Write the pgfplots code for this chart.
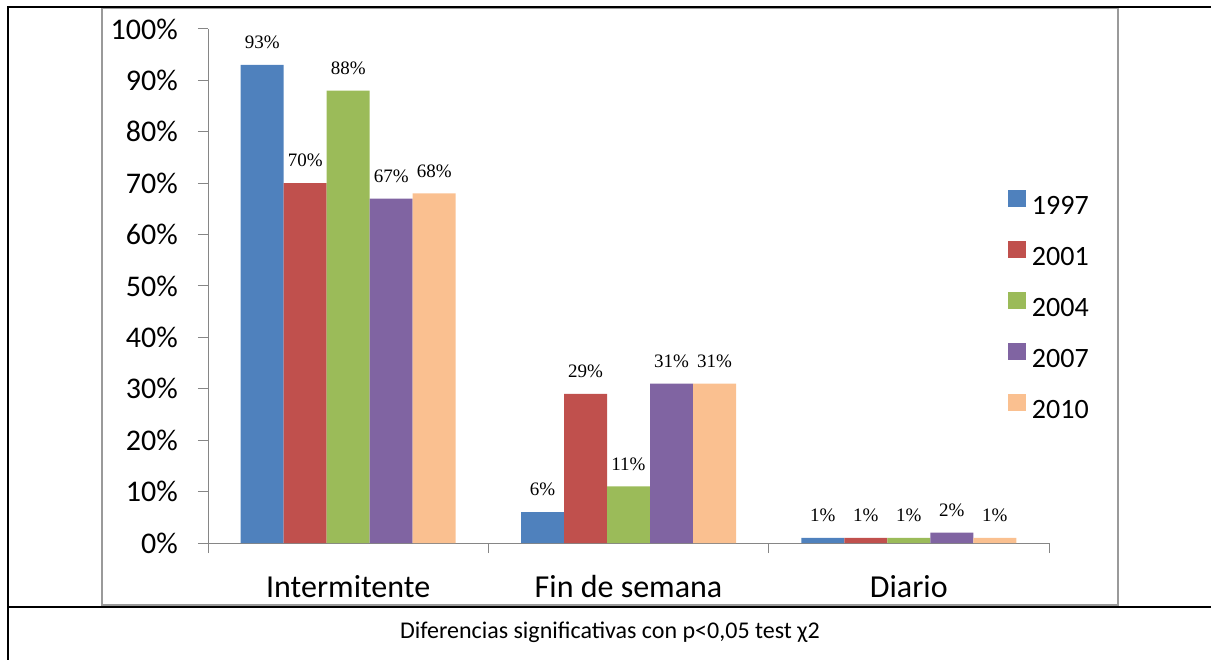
\documentclass[border=0pt]{standalone}
\usepackage{pgfplots}
\pgfplotsset{compat=1.18}
\usepackage{fontspec}
\setmainfont{Carlito}
\newfontfamily\labelfont{Liberation Serif}

\definecolor{c1997}{HTML}{4F81BD}
\definecolor{c2001}{HTML}{C0504D}
\definecolor{c2004}{HTML}{9BBB59}
\definecolor{c2007}{HTML}{8064A2}
\definecolor{c2010}{HTML}{FAC090}
\definecolor{axisgrey}{HTML}{868686}
\definecolor{framegrey}{HTML}{9A9A9A}

% porcentajes por tipo de consumo: Intermitente, Fin de semana, Diario
\pgfplotstableread{
x y
0 93
1 6
2 1
}\tabA
\pgfplotstableread{
x y
0 70
1 29
2 1
}\tabB
\pgfplotstableread{
x y
0 88
1 11
2 1
}\tabC
\pgfplotstableread{
x y
0 67
1 31
2 2
}\tabD
\pgfplotstableread{
x y
0 68
1 31
2 1
}\tabE

\begin{document}
\begin{tikzpicture}
\path[use as bounding box] (0pt,0pt) rectangle (1211pt,-660pt);
% marco
\draw[framegrey, line width=2pt] (102pt,-8pt) -- (102pt,-605pt) -- (1118pt,-605pt) -- (1118pt,-8pt) -- cycle;
\draw[black, line width=1.6pt] (1211pt,-7pt) -- (8pt,-7pt) -- (8pt,-660pt);
\draw[black, line width=1.6pt] (8pt,-607pt) -- (1211pt,-607pt);
\node[font=\fontsize{24}{28}\selectfont] at (610pt,-632pt) {Diferencias significativas con p<0,05 test χ2};

\begin{axis}[
    at={(208pt,-543pt)}, anchor=south west,
    scale only axis, width=841pt, height=514pt,
    ybar=0pt, bar width=43pt,
    xmin=-0.5, xmax=2.5, ymin=0, ymax=100,
    axis lines*=left,
    axis line style={axisgrey, line width=1pt},
    tick style={axisgrey, line width=1pt},
    tick align=outside, major tick length=10pt,
    ytick={0,10,...,100},
    yticklabel={\pgfmathprintnumber{\tick}\%},
    yticklabel style={font=\fontsize{30}{34}\selectfont, inner sep=0pt, xshift=-20pt},
    xtick={-0.5,0.5,1.5,2.5}, xticklabels={},
    extra x ticks={0,1,2},
    extra x tick labels={Intermitente,Fin de semana,Diario},
    extra x tick style={major tick length=0pt,
        xticklabel style={font=\fontsize{32}{36}\selectfont, inner sep=0pt, yshift=-32pt}},
    /pgf/number format/assume math mode=true,
    nodes near coords={\pgfmathprintnumber{\pgfplotspointmeta}\%},
    every node near coord/.append style={font=\labelfont\fontsize{19}{22}\selectfont, black, inner sep=0pt, yshift=16pt},
    legend cell align=left,
    legend image code/.code={\fill[#1] (0pt,-1pt) rectangle (18pt,16pt);},
    legend style={draw=none, fill=none, at={(0.9512,0.687)}, anchor=north west,
        inner sep=0pt, outer sep=0pt, row sep=26pt, column sep=6pt,
        font=\fontsize{28}{32}\selectfont,
        nodes={inner sep=0pt, text height=18pt, text depth=0pt}},
]
\addplot[fill=c1997, draw=none] table {\tabA};
\addplot[fill=c2001, draw=none] table {\tabB};
\addplot[fill=c2004, draw=none] table {\tabC};
\addplot[fill=c2007, draw=none] table {\tabD};
\addplot[fill=c2010, draw=none] table {\tabE};
\legend{1997,2001,2004,2007,2010}
\end{axis}
\end{tikzpicture}
\end{document}
